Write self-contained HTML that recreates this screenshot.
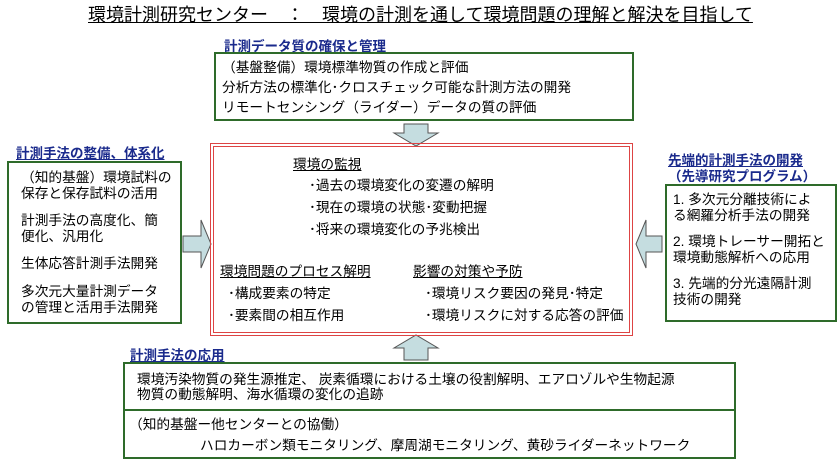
<!DOCTYPE html>
<html><head><meta charset="utf-8"><style>
body{margin:0;width:840px;height:465px;background:#fff;position:relative;overflow:hidden;font-family:"Liberation Sans","Noto Sans CJK JP",sans-serif;color:#000}
.a{position:absolute;white-space:nowrap}
.t{font-size:13.7px;line-height:15px}
.h{font-size:13.5px;font-weight:bold;color:#1a2a8c;text-decoration:underline}
.box{position:absolute;border:2px solid #2e6b2a;box-sizing:border-box}
.u{text-decoration:underline}
</style></head><body>
<div class="a" style="left:88px;top:3px;font-size:18px;line-height:24px;text-decoration:underline">環境計測研究センター　：　環境の計測を通して環境問題の理解と解決を目指して</div>

<div class="a h" style="left:224px;top:35px">計測データ質の確保と管理</div>
<div class="box" style="left:214px;top:52px;width:420px;height:69px"></div>
<div class="a t" style="left:222px;top:60px">（基盤整備）環境標準物質の作成と評価</div>
<div class="a t" style="left:222px;top:80px">分析方法の標準化･クロスチェック可能な計測方法の開発</div>
<div class="a t" style="left:222px;top:100px">リモートセンシング（ライダー）データの質の評価</div>

<svg class="a" style="left:0;top:0" width="840" height="465">
<polygon points="404,124 428,124 428,133 438,133 416,146 394,133 404,133" fill="#c5dde0" stroke="#555" stroke-width="1"/>
<polygon points="404,360 428,360 428,348 438,348 416,335 394,348 404,348" fill="#c5dde0" stroke="#555" stroke-width="1"/>
<polygon points="183,236 201,236 201,220 211,244 201,268 201,252 183,252" fill="#c5dde0" stroke="#555" stroke-width="1"/>
<polygon points="662,236 646,236 646,220 636,244 646,268 646,252 662,252" fill="#c5dde0" stroke="#555" stroke-width="1"/>
<rect x="210.5" y="143.5" width="422" height="192" fill="none" stroke="#d44" stroke-width="1"/>
<rect x="213.5" y="146.5" width="416" height="186" fill="none" stroke="#d44" stroke-width="1"/>
</svg>

<div class="a t u" style="left:293px;top:157px">環境の監視</div>
<div class="a t" style="left:309px;top:178px">･過去の環境変化の変遷の解明</div>
<div class="a t" style="left:309px;top:200px">･現在の環境の状態･変動把握</div>
<div class="a t" style="left:309px;top:222px">･将来の環境変化の予兆検出</div>
<div class="a t u" style="left:220px;top:264px">環境問題のプロセス解明</div>
<div class="a t" style="left:228px;top:286px">･構成要素の特定</div>
<div class="a t" style="left:228px;top:308px">･要素間の相互作用</div>
<div class="a t u" style="left:413px;top:264px">影響の対策や予防</div>
<div class="a t" style="left:425px;top:286px">･環境リスク要因の発見･特定</div>
<div class="a t" style="left:425px;top:308px">･環境リスクに対する応答の評価</div>

<div class="a h" style="left:16px;top:142px">計測手法の整備、体系化</div>
<div class="box" style="left:7px;top:161px;width:175px;height:163px"></div>
<div class="a t" style="left:21px;top:170px">（知的基盤）環境試料の</div>
<div class="a t" style="left:21px;top:186px">保存と保存試料の活用</div>
<div class="a t" style="left:21px;top:213px">計測手法の高度化、簡</div>
<div class="a t" style="left:21px;top:229px">便化、汎用化</div>
<div class="a t" style="left:21px;top:256px">生体応答計測手法開発</div>
<div class="a t" style="left:21px;top:284px">多次元大量計測データ</div>
<div class="a t" style="left:21px;top:300px">の管理と活用手法開発</div>

<div class="a h" style="left:668px;top:149px">先端的計測手法の開発</div>
<div class="a h" style="left:668px;top:165px;text-decoration:none">（先導研究プログラム）</div>
<div class="box" style="left:665px;top:184px;width:172px;height:138px"></div>
<div class="a t" style="left:673px;top:192px">1. 多次元分離技術によ</div>
<div class="a t" style="left:673px;top:208px">る網羅分析手法の開発</div>
<div class="a t" style="left:673px;top:234px">2. 環境トレーサー開拓と</div>
<div class="a t" style="left:673px;top:250px">環境動態解析への応用</div>
<div class="a t" style="left:673px;top:276px">3. 先端的分光遠隔計測</div>
<div class="a t" style="left:673px;top:292px">技術の開発</div>

<div class="a h" style="left:130px;top:344px">計測手法の応用</div>
<div class="box" style="left:123px;top:362px;width:613px;height:97px"></div>
<div class="a" style="left:123px;top:409px;width:613px;height:2px;background:#2e6b2a"></div>
<div class="a t" style="left:137px;top:372px">環境汚染物質の発生源推定、 炭素循環における土壌の役割解明、エアロゾルや生物起源</div>
<div class="a t" style="left:137px;top:387px">物質の動態解明、海水循環の変化の追跡</div>
<div class="a t" style="left:129px;top:417px">（知的基盤ー他センターとの協働）</div>
<div class="a t" style="left:200px;top:438px">ハロカーボン類モニタリング、摩周湖モニタリング、黄砂ライダーネットワーク</div>
</body></html>
